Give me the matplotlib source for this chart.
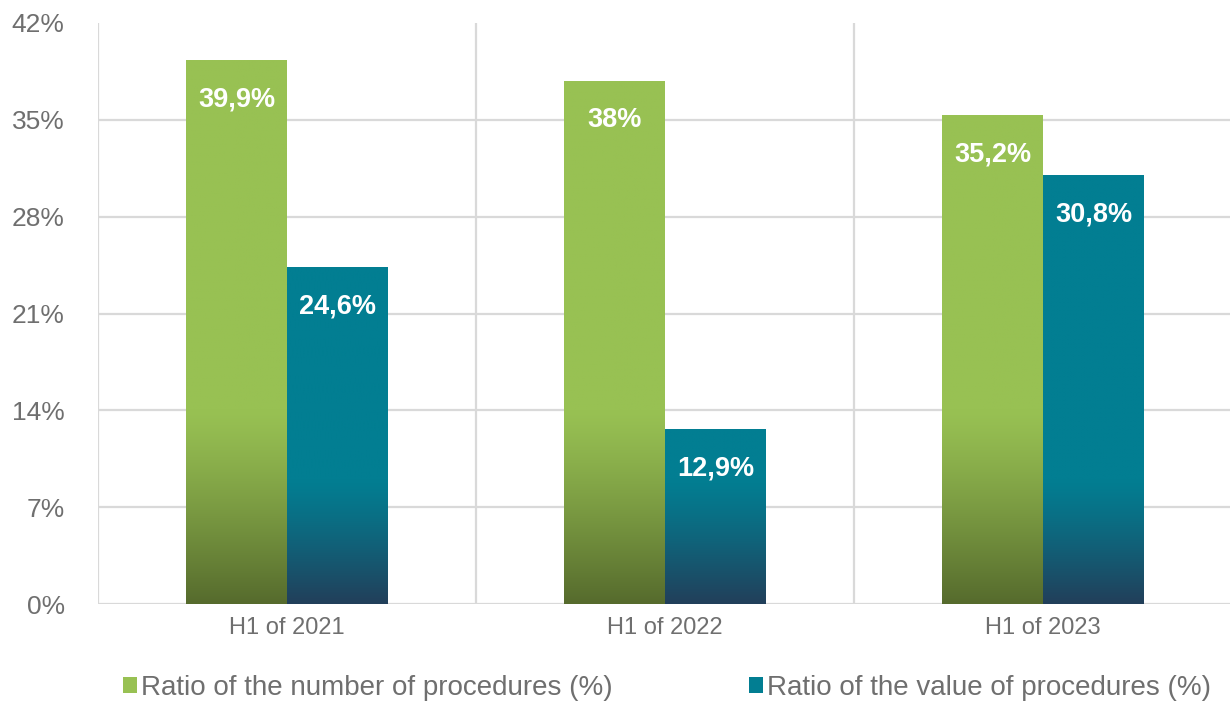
import matplotlib
matplotlib.use("Agg")
import matplotlib.pyplot as plt
import numpy as np
from matplotlib.patches import Patch
from matplotlib.colors import to_rgb

categories = ["H1 of 2021", "H1 of 2022", "H1 of 2023"]
# bar heights as drawn in the picture
number_ratio = [39.3, 37.8, 35.3]
value_ratio = [24.3, 12.6, 31.0]
# value labels printed on the bars
number_labels = ["39,9%", "38%", "35,2%"]
value_labels = ["24,6%", "12,9%", "30,8%"]
series_names = ["Ratio of the number of procedures (%)", "Ratio of the value of procedures (%)"]
yticks = [0, 7, 14, 21, 28, 35, 42]

green_top, green_bot = "#98C153", "#566B2D"
teal_top, teal_bot = "#027E92", "#223F5A"
text_c = "#6F6F6F"
font = "Liberation Sans"

fig = plt.figure(figsize=(12.3, 7.02), dpi=100)
ax = fig.add_axes([98/1230, 1-604/702, 1134/1230, (604-23)/702])

x = np.arange(len(categories))
w = 0.267

def grad_bar(xc, h, ctop, cbot, gstart):
    x0, x1 = xc - w/2, xc + w/2
    n = 300
    ys = np.linspace(h, 0, n)
    t = np.clip((gstart - ys) / gstart, 0, 1)[:, None]
    t = t ** 1.2
    ct, cb = np.array(to_rgb(ctop)), np.array(to_rgb(cbot))
    img = (ct * (1 - t) + cb * t)[:, None, :]
    ax.imshow(img, extent=[x0, x1, 0, h], aspect="auto", zorder=3, interpolation="bilinear")

for i in range(len(categories)):
    grad_bar(x[i] - w/2, number_ratio[i], green_top, green_bot, 14.0)
    grad_bar(x[i] + w/2, value_ratio[i], teal_top, teal_bot, 9.0)
    ax.annotate(number_labels[i], (x[i] - w/2, number_ratio[i]), xytext=(0, -28),
                textcoords="offset points", ha="center", va="center", color="white",
                fontsize=19.5, fontweight="bold", family=font, zorder=5)
    ax.annotate(value_labels[i], (x[i] + w/2, value_ratio[i]), xytext=(0, -28),
                textcoords="offset points", ha="center", va="center", color="white",
                fontsize=19.5, fontweight="bold", family=font, zorder=5)

ax.set_xlim(-0.5, 2.5)
ax.set_ylim(0, 42)
grid_c = "#D9D9D9"
for yt in yticks[:-1]:
    ax.axhline(yt, color=grid_c, lw=1.6, zorder=1)
for xv in [-0.5, 0.5, 1.5, 2.5]:
    ax.axvline(xv, color=grid_c, lw=1.6, zorder=1)

for s in ax.spines.values():
    s.set_visible(False)

ax.set_yticks(yticks)
ax.set_yticklabels([f"{v}%" for v in yticks], fontsize=19, color=text_c, family=font)
ax.set_xticks(x)
ax.set_xticklabels(categories, fontsize=17, color=text_c, family=font)
ax.tick_params(axis="y", length=0, pad=24)
ax.tick_params(axis="x", length=0, pad=9)

handles = [Patch(facecolor=green_top, edgecolor="none"), Patch(facecolor=teal_top, edgecolor="none")]
leg = fig.legend(handles, series_names, loc="center", bbox_to_anchor=(667/1230, 1-688/702), ncol=2,
                 frameon=False, prop={"family": font, "size": 20}, handlelength=0.5, handleheight=0.5,
                 handletextpad=0.15, columnspacing=4.9, borderpad=0, borderaxespad=0)
for t in leg.get_texts():
    t.set_color(text_c)

fig.savefig("out.png", dpi=100)
